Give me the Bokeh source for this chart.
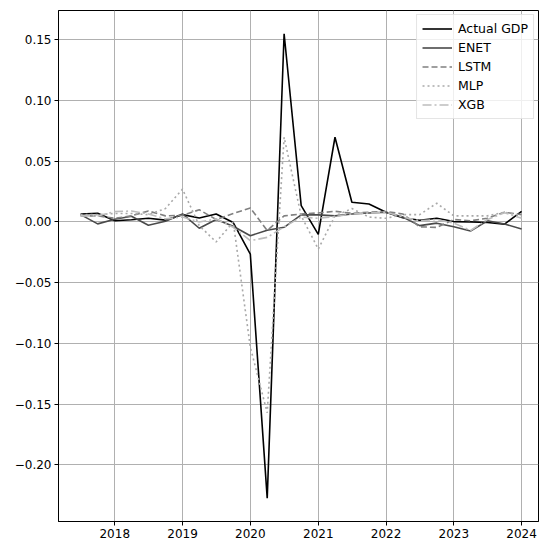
import pandas as pd
from bokeh.plotting import figure
from bokeh.models import FixedTicker, CustomJSTickFormatter, Range1d, DatetimeTickFormatter
from bokeh.embed import file_html
from bokeh.resources import INLINE

dates = ["2017-07-01", "2017-10-01", "2018-01-01", "2018-04-01", "2018-07-01", "2018-10-01",
         "2019-01-01", "2019-04-01", "2019-07-01", "2019-10-01", "2020-01-01", "2020-04-01",
         "2020-07-01", "2020-10-01", "2021-01-01", "2021-04-01", "2021-07-01", "2021-10-01",
         "2022-01-01", "2022-04-01", "2022-07-01", "2022-10-01", "2023-01-01", "2023-04-01",
         "2023-07-01", "2023-10-01", "2024-01-01"]

actual_gdp = [0.0066, 0.0071, 0.0010, 0.0018, 0.0030, 0.0015, 0.0060, 0.0033, 0.0066, -0.0005,
              -0.0265, -0.2273, 0.1549, 0.0134, -0.0102, 0.0697, 0.0162, 0.0148, 0.0080, 0.0035,
              0.0014, 0.0030, 0.0003, 0.0001, -0.0005, -0.0018, 0.0087]
enet = [0.0060, -0.0016, 0.0022, 0.0047, -0.0027, 0.0005, 0.0066, -0.0052, 0.0020, -0.0035,
        -0.0113, -0.0068, -0.0044, 0.0058, 0.0058, 0.0050, 0.0066, 0.0074, 0.0080, 0.0040,
        -0.0030, -0.0010, -0.0040, -0.0075, 0.0010, -0.0017, -0.0058]
lstm = [0.0050, 0.0050, 0.0030, 0.0050, 0.0090, 0.0050, 0.0055, 0.0100, 0.0020, 0.0070,
        0.0115, -0.0070, 0.0050, 0.0066, 0.0074, 0.0088, 0.0071, 0.0080, 0.0085, 0.0066,
        -0.0040, -0.0045, 0.0020, 0.0010, 0.0030, 0.0080, 0.0060]
mlp = [0.0060, 0.0060, 0.0070, 0.0070, 0.0060, 0.0110, 0.0270, -0.0030, -0.0165, 0.0000,
       -0.1030, -0.1570, 0.0697, 0.0050, -0.0223, 0.0050, 0.0110, 0.0040, 0.0030, 0.0060,
       0.0060, 0.0154, 0.0050, 0.0050, 0.0050, 0.0080, 0.0050]
xgb = [0.0050, 0.0050, 0.0085, 0.0090, 0.0066, 0.0025, 0.0040, 0.0000, 0.0025, -0.0044,
       -0.0154, -0.0127, -0.0040, 0.0040, 0.0030, 0.0044, 0.0066, 0.0074, 0.0080, 0.0040,
       0.0010, 0.0020, -0.0010, -0.0070, 0.0020, 0.0075, 0.0030]

year_ticks = ["2018-01-01", "2019-01-01", "2020-01-01", "2021-01-01", "2022-01-01", "2023-01-01", "2024-01-01"]
y_ticks = [-0.20, -0.15, -0.10, -0.05, 0.0, 0.05, 0.10, 0.15]

x = pd.to_datetime(dates)

p = figure(width=539, height=546, x_axis_type="datetime", output_backend="svg",
           toolbar_location=None, min_border_left=58, min_border_top=10,
           min_border_right=1, min_border_bottom=25)
p.x_range = Range1d(pd.Timestamp("2017-03-04"), pd.Timestamp("2024-04-01"))
p.y_range = Range1d(-0.2465, 0.174)

font = "DejaVu Sans"
series = [
    ("Actual GDP", actual_gdp, "#000000", "solid"),
    ("ENET", enet, "#4a4a4a", "solid"),
    ("LSTM", lstm, "#808080", "6 3"),
    ("MLP", mlp, "#a9a9a9", "2 3"),
    ("XGB", xgb, "#bdbdbd", "9 3 2 3"),
]
for name, vals, col, dash in series:
    p.line(x, vals, line_color=col, line_width=1.6, line_dash=dash, legend_label=name)

ms = [pd.Timestamp(t).value / 1e6 for t in year_ticks]
p.xaxis.ticker = FixedTicker(ticks=ms)
p.xaxis.formatter = DatetimeTickFormatter(years="%Y", months="%Y", days="%Y")
p.yaxis.ticker = FixedTicker(ticks=y_ticks)
p.yaxis.formatter = CustomJSTickFormatter(code="""
    const v = Math.abs(tick) < 1e-9 ? 0 : tick;
    return (v < 0 ? '\u2212' : '') + Math.abs(v).toFixed(2);
""")

for ax in (p.xaxis, p.yaxis):
    ax.major_label_text_font = font
    ax.major_label_text_font_size = "12px"
    ax.major_label_text_color = "#000000"
    ax.axis_line_color = "#000000"
    ax.axis_line_width = 1
    ax.major_tick_line_color = "#000000"
    ax.major_tick_in = 0
    ax.major_tick_out = 4
    ax.minor_tick_line_color = None
    ax.major_label_standoff = 3

p.grid.grid_line_color = "#b0b0b0"
p.grid.grid_line_width = 1
p.outline_line_color = "#000000"
p.outline_line_width = 1
p.background_fill_color = "white"

leg = p.legend[0]
leg.location = "top_right"
leg.label_text_font = font
leg.label_text_font_size = "12.5px"
leg.label_text_color = "#000000"
leg.glyph_width = 30
leg.glyph_height = 17
leg.label_height = 17
leg.spacing = 2
leg.padding = 5
leg.margin = 4
leg.label_standoff = 6
leg.border_line_color = "#cccccc"
leg.border_line_width = 1
leg.background_fill_alpha = 0.8

open("out.html", "w").write(file_html(p, INLINE))
